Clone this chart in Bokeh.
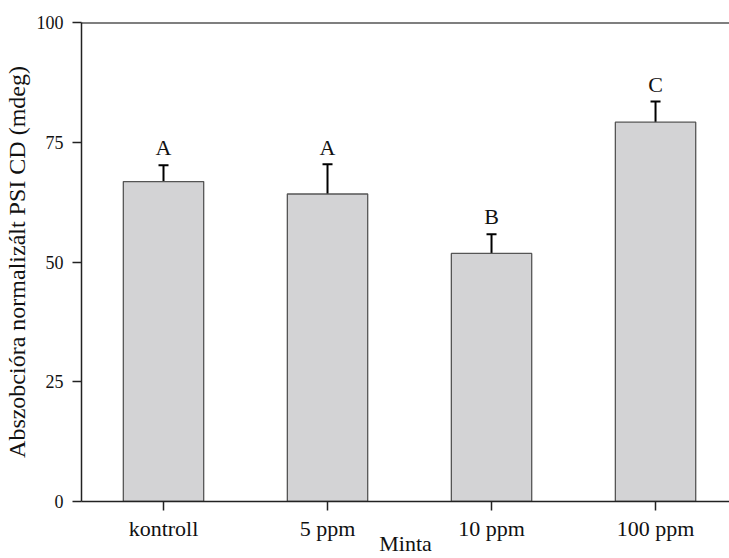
from bokeh.plotting import figure
from bokeh.models import Range1d, FixedTicker, Whisker, TeeHead, ColumnDataSource, Span
from bokeh.core.properties import value
from bokeh.embed import file_html
from bokeh.resources import INLINE

# Data
categories = ["kontroll", "5 ppm", "10 ppm", "100 ppm"]
means = [66.8, 64.2, 51.8, 79.2]
errors = [3.4, 6.2, 4.0, 4.3]
letters = ["A", "A", "B", "C"]
y_ticks = [0, 25, 50, 75, 100]

FONT = "Liberation Serif"
LETTER_GAP = 3.6  # data units between error-bar cap and letter anchor

xs = list(range(1, len(categories) + 1))
uppers = [m + e for m, e in zip(means, errors)]
letter_y = [u + LETTER_GAP for u in uppers]
src = ColumnDataSource(dict(x=xs, top=means, upper=uppers, ly=letter_y, letter=letters))

W, H = 729, 558
p = figure(width=W, height=H, output_backend="svg", toolbar_location=None,
           x_range=Range1d(0.5, 4.451), y_range=Range1d(0, 100),
           min_border_left=81, min_border_right=0, min_border_top=22, min_border_bottom=57)
p.outline_line_color = None
p.xgrid.visible = False
p.ygrid.visible = False
p.background_fill_color = "white"
p.border_fill_color = "white"

p.vbar(x="x", top="top", width=0.49, bottom=0, source=src,
       fill_color="#d3d3d5", line_color="#555555", line_width=1.3)

wh = Whisker(base="x", lower="top", upper="upper", source=src,
             line_color="black", line_width=2, lower_head=None,
             upper_head=TeeHead(size=10, line_width=2, line_color="black"))
p.add_layout(wh)

p.text(x="x", y="ly", text="letter", source=src, text_align="center",
       text_baseline="alphabetic", text_color="#111111",
       text_font=value(FONT), text_font_size="22px")

p.add_layout(Span(location=100, dimension="width", line_color="black", line_width=2))

# Axes
xa = p.xaxis[0]
xa.ticker = FixedTicker(ticks=xs)
xa.major_label_overrides = {x: c for x, c in zip(xs, categories)}
xa.major_tick_out = 9
xa.major_tick_in = 0
xa.minor_tick_line_color = None
xa.major_label_standoff = 5
xa.major_label_text_font = FONT
xa.major_label_text_font_size = "22px"
xa.major_label_text_color = "#111111"
xa.axis_line_color = "#222222"
xa.axis_line_width = 1.5
xa.major_tick_line_color = "#222222"
xa.major_tick_line_width = 1.5
xa.axis_label = "Minta"
xa.axis_label_text_font = FONT
xa.axis_label_text_font_size = "22px"
xa.axis_label_text_font_style = "normal"
xa.axis_label_text_color = "#111111"
xa.axis_label_standoff = -13

ya = p.yaxis[0]
ya.ticker = FixedTicker(ticks=y_ticks)
ya.major_tick_out = 9
ya.major_tick_in = 0
ya.minor_tick_line_color = None
ya.major_label_standoff = 9
ya.major_label_text_font = FONT
ya.major_label_text_font_size = "18px"
ya.major_label_text_color = "#111111"
ya.axis_line_color = "#222222"
ya.axis_line_width = 1.5
ya.major_tick_line_color = "#222222"
ya.major_tick_line_width = 1.5
ya.axis_label = "Abszobcióra normalizált PSI CD (mdeg)"
ya.axis_label_text_font = FONT
ya.axis_label_text_font_size = "24px"
ya.axis_label_text_font_style = "normal"
ya.axis_label_text_color = "#111111"
ya.axis_label_standoff = 4

open("out.html", "w").write(file_html(p, INLINE))
